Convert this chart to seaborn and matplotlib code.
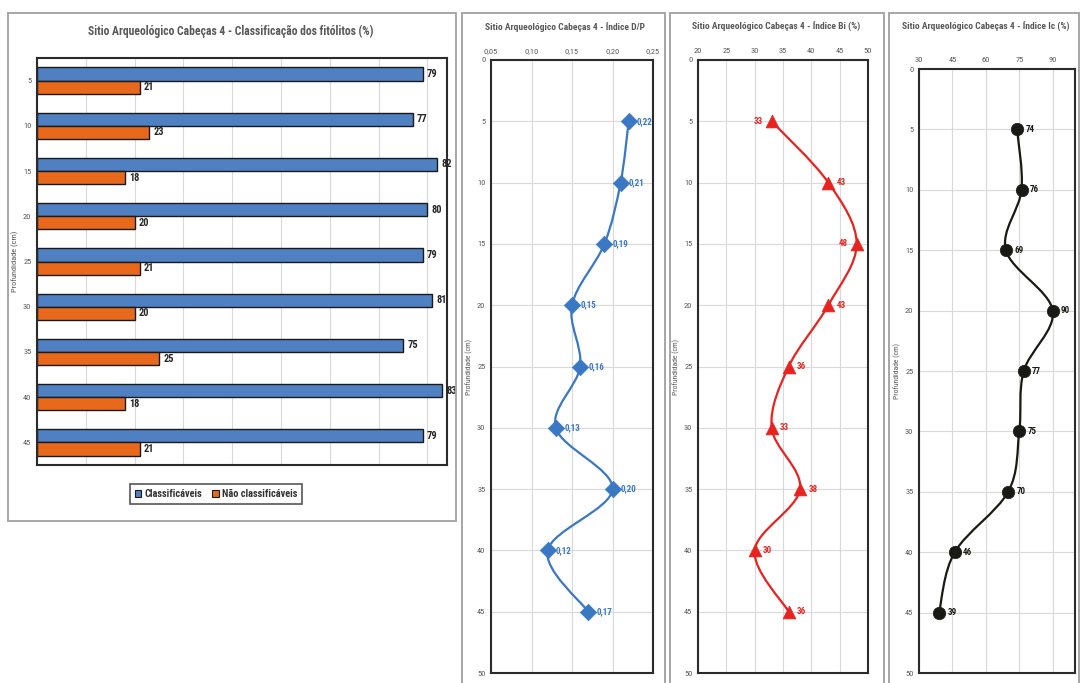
import numpy as np
import pandas as pd
import matplotlib
matplotlib.use("Agg")
import matplotlib.pyplot as plt
from matplotlib import font_manager
from matplotlib.path import Path
from matplotlib.patches import PathPatch, Rectangle
import seaborn as sns

# ---- data -------------------------------------------------------------
depths = [5, 10, 15, 20, 25, 30, 35, 40, 45]
classificaveis = [79, 77, 82, 80, 79, 81, 75, 83, 79]
nao_classificaveis = [21, 23, 18, 20, 21, 20, 25, 18, 21]
indice_dp = [0.22, 0.21, 0.19, 0.15, 0.16, 0.13, 0.20, 0.12, 0.17]
indice_bi = [33, 43, 48, 43, 36, 33, 38, 30, 36]
indice_ic = [74, 76, 69, 90, 77, 75, 70, 46, 39]

series_names = ["Classificáveis", "Não classificáveis"]
title_bar = "Sitio Arqueológico Cabeças 4 - Classificação dos fitólitos (%)"
title_dp = "Sitio Arqueológico Cabeças 4 - Índice D/P"
title_bi = "Sitio Arqueológico Cabeças 4 - Índice Bi (%)"
title_ic = "Sitio Arqueológico Cabeças 4 - Índice Ic (%)"
depth_label = "Profundidade (cm)"

# ---- style ------------------------------------------------------------
sns.set_theme(style="white")
available = {f.name for f in font_manager.fontManager.ttflist}
narrow = None
for cand in ["Liberation Sans Narrow", "Arial Narrow", "Roboto Condensed", "DejaVu Sans Condensed"]:
    if cand in available:
        narrow = cand
        break
if narrow is None:
    narrow = "Liberation Sans"
    scale = 0.82
else:
    scale = 1.0
plt.rcParams["font.family"] = [narrow, "DejaVu Sans"]

BLUE = "#4f81c2"
ORANGE = "#e8691c"
LINE_BLUE = "#3a78c4"
RED = "#e8231f"
DARK = "#1a1a14"
GREY_TXT = "#595959"
GRID = "#d9d9d9"
FRAME = "#2b2b2b"

W, H = 1081, 683
fig = plt.figure(figsize=(W / 100, H / 100), dpi=100)
fig.patch.set_facecolor("white")


def rect(left, top, right, bottom):
    return [left / W, 1 - bottom / H, (right - left) / W, (bottom - top) / H]


def panel(left, top, right, bottom):
    fig.patches.append(Rectangle((left / W, 1 - bottom / H), (right - left) / W, (bottom - top) / H,
                                 transform=fig.transFigure, fill=False, edgecolor="#a6a6a6",
                                 linewidth=1.4, zorder=0))


panel(8, 13, 456, 521)
panel(462, 13, 665, 700)
panel(670, 13, 884, 700)
panel(889, 13, 1079, 700)


def frame_axes(ax):
    for s in ax.spines.values():
        s.set_visible(True)
        s.set_color(FRAME)
        s.set_linewidth(1.5)


# ---- panel 1: grouped horizontal bars ---------------------------------
ax1 = fig.add_axes(rect(37, 58, 447, 465))
df = pd.DataFrame({
    "Profundidade": [str(d) for d in depths] * 2,
    "Valor": classificaveis + nao_classificaveis,
    "Tipo": [series_names[0]] * len(depths) + [series_names[1]] * len(depths),
})
sns.barplot(data=df, y="Profundidade", x="Valor", hue="Tipo", orient="h",
            order=[str(d) for d in depths], hue_order=series_names,
            palette=[BLUE, ORANGE], saturation=1, edgecolor="#1a1a1a", linewidth=1.0,
            width=0.58, ax=ax1, legend=False)
for cont in ax1.containers:
    ax1.bar_label(cont, fmt="%d", padding=3, fontsize=7.5 * scale, color="#262626",
                  fontweight="bold")
ax1.set_xlim(0, 84)
ax1.set_xticks(np.arange(0, 81, 10))
ax1.set_xticklabels([])
ax1.tick_params(axis="x", length=0)
ax1.tick_params(axis="y", length=0, pad=4, labelsize=6 * scale, labelcolor=GREY_TXT)
ax1.xaxis.grid(True, color=GRID, linewidth=0.8)
ax1.set_axisbelow(True)
ax1.set_xlabel("")
ax1.set_ylabel(depth_label, fontsize=6 * scale, color=GREY_TXT)
ax1.yaxis.set_label_coords(-0.045, 0.5)
frame_axes(ax1)
fig.text(231 / W, 1 - 31 / H, title_bar, ha="center", va="center",
         fontsize=8.4 * scale, color=GREY_TXT, fontweight="bold")
handles = [Rectangle((0, 0), 1, 1, facecolor=BLUE, edgecolor="#1a1a1a", linewidth=0.8),
           Rectangle((0, 0), 1, 1, facecolor=ORANGE, edgecolor="#1a1a1a", linewidth=0.8)]
leg = fig.legend(handles, series_names, loc="center", bbox_to_anchor=(216 / W, 1 - 494 / H),
                 ncol=2, fontsize=7.5 * scale, frameon=True, fancybox=False,
                 handlelength=0.6, handleheight=0.6, handletextpad=0.3, columnspacing=1.0,
                 borderpad=0.45)
leg.get_frame().set_edgecolor(FRAME)
leg.get_frame().set_linewidth(1.2)
for t in leg.get_texts():
    t.set_color("#333333")
    t.set_fontweight("bold")


# ---- depth profiles ---------------------------------------------------
def smooth_path(xs, ys):
    pts = np.column_stack([xs, ys]).astype(float)
    verts = [pts[0]]
    codes = [Path.MOVETO]
    n = len(pts)
    for i in range(n - 1):
        p0 = pts[i - 1] if i > 0 else pts[i]
        p1, p2 = pts[i], pts[i + 1]
        p3 = pts[i + 2] if i + 2 < n else pts[i + 1]
        verts += [p1 + (p2 - p0) / 6, p2 - (p3 - p1) / 6, p2]
        codes += [Path.CURVE4] * 3
    return Path(verts, codes)


def profile(box, values, xlim, xticks, xticklabels, color, marker, msize, title, fmt,
            left_labels=(), label_xcoord=-0.1, title_x=None):
    ax = fig.add_axes(rect(*box))
    ax.add_patch(PathPatch(smooth_path(values, depths), facecolor="none", edgecolor=color,
                           linewidth=1.6, transform=ax.transData, zorder=2))
    pdf = pd.DataFrame({"x": values, "y": depths})
    sns.scatterplot(data=pdf, x="x", y="y", marker=marker, s=msize, color=color,
                    edgecolor=color, linewidth=0.5, ax=ax, zorder=3, legend=False)
    ax.set_xlim(*xlim)
    ax.set_ylim(50, 0)
    ax.set_xticks(xticks)
    ax.set_xticklabels(xticklabels)
    ax.set_yticks(np.arange(0, 51, 5))
    ax.xaxis.tick_top()
    ax.tick_params(axis="both", length=0, labelsize=6 * scale, labelcolor=GREY_TXT)
    ax.tick_params(axis="x", pad=4)
    ax.tick_params(axis="y", pad=4)
    ax.grid(True, color=GRID, linewidth=0.8)
    ax.set_axisbelow(True)
    ax.set_xlabel("")
    ax.set_ylabel(depth_label, fontsize=5.5 * scale, color=GREY_TXT)
    ax.yaxis.set_label_coords(label_xcoord, 0.5)
    frame_axes(ax)
    for i, (v, d) in enumerate(zip(values, depths)):
        if i in left_labels:
            ax.annotate(fmt(v), (v, d), xytext=(-6, 0), textcoords="offset points",
                        ha="right", va="center", fontsize=6.5 * scale, color=color,
                        fontweight="bold")
        else:
            ax.annotate(fmt(v), (v, d), xytext=(6, 0), textcoords="offset points",
                        ha="left", va="center", fontsize=6.5 * scale, color=color,
                        fontweight="bold")
    cx = (box[0] + box[2]) / 2 if title_x is None else title_x
    fig.text(cx / W, 1 - 27 / H, title, ha="center", va="center",
             fontsize=6.8 * scale, color=GREY_TXT, fontweight="bold")
    return ax


def comma(v, nd):
    return f"{v:.{nd}f}".replace(".", ",")


dp_ticks = [0.05, 0.10, 0.15, 0.20, 0.25]
profile((491, 60, 653, 673), indice_dp, (0.05, 0.25), dp_ticks,
        [comma(t, 2) for t in dp_ticks], LINE_BLUE, "D", 70, title_dp,
        lambda v: comma(v, 2), label_xcoord=-0.11, title_x=565)

bi_ticks = list(range(20, 51, 5))
profile((698, 60, 868, 673), indice_bi, (20, 50), bi_ticks,
        [str(t) for t in bi_ticks], RED, "^", 85, title_bi,
        lambda v: f"{v:d}", left_labels=(0, 2), label_xcoord=-0.105, title_x=776)

ic_ticks = list(range(30, 91, 15))
profile((919, 69, 1075, 673), indice_ic, (30, 100), ic_ticks,
        [str(t) for t in ic_ticks], DARK, "o", 80, title_ic,
        lambda v: f"{v:d}", label_xcoord=-0.115, title_x=986)

fig.savefig("out.png", dpi=100, facecolor="white")
